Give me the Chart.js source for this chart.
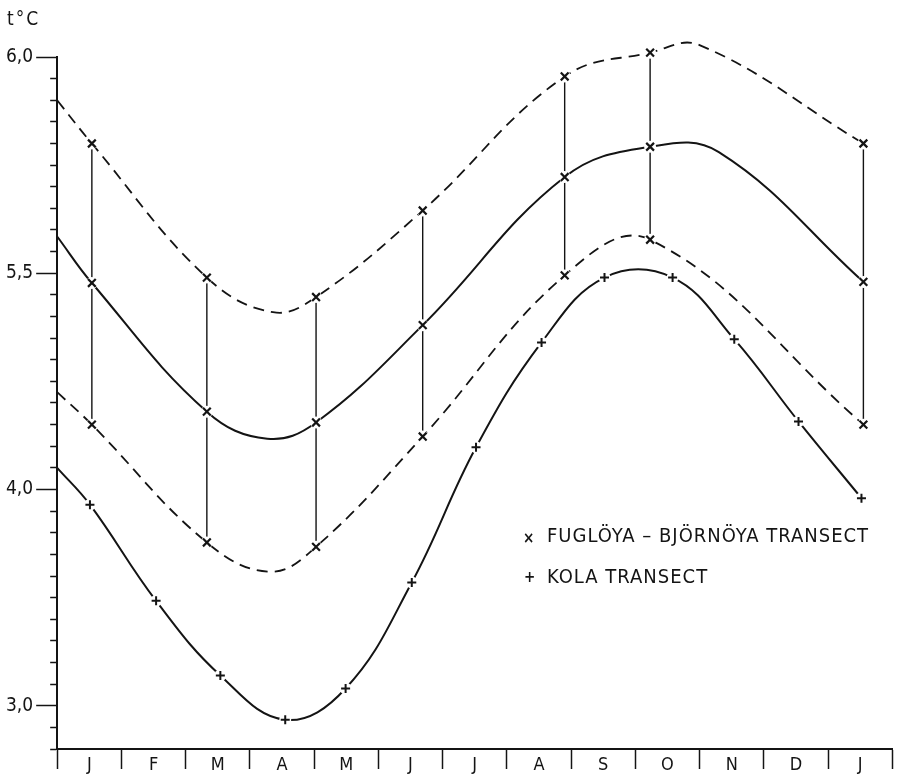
<!DOCTYPE html>
<html>
<head>
<meta charset="utf-8">
<script src="https://cdn.jsdelivr.net/npm/chart.js@4"></script>
<style>
  html, body { margin: 0; padding: 0; background: #fff; }
  #wrap { width: 900px; height: 777px; }
</style>
</head>
<body>
<div id="wrap"><canvas id="tempChart"></canvas></div>
<script>
// Months along the x axis (January to January)
const months = ['J', 'F', 'M', 'A', 'M', 'J', 'J', 'A', 'S', 'O', 'N', 'D', 'J'];

// Labelled y ticks, printed as on the original figure
const yTickValues = [3, 4, 5, 6];
const yTickLabels = ['3,0', '4,0', '5,5', '6,0'];

// Fuglöya - Björnöya transect: observation times (months from 1 Jan) and t°C
const fugX    = [0.54, 2.33, 4.03, 5.69, 7.90, 9.23, 12.55];
const fugMax  = [5.60, 4.98, 4.89, 5.29, 5.91, 6.02, 5.60];
const fugMean = [4.955, 4.36, 4.31, 4.76, 5.445, 5.585, 4.96];
const fugMin  = [4.30, 3.755, 3.735, 4.245, 4.99, 5.155, 4.30];

// where the drawn curves start at the axis or turn between observations
const fugMaxBends  = [[0, 5.80], [3.36, 4.82], [10.0, 6.055]];
const fugMeanBends = [[0, 5.17], [3.27, 4.235], [10.3, 5.56]];
const fugMinBends  = [[0, 4.45], [3.31, 3.62]];

// Kola transect
const kolaX = [0.51, 1.54, 2.54, 3.55, 4.49, 5.52, 6.52, 7.54, 8.52, 9.58, 10.54, 11.54, 12.52];
const kolaT = [3.93, 3.485, 3.14, 2.935, 3.08, 3.57, 4.195, 4.68, 4.98, 4.98, 4.695, 4.315, 3.96];
const kolaBends = [[0, 4.10]];

const INK = '#141414';
const FONT = "'DejaVu Sans Condensed', 'Liberation Sans Narrow', 'DejaVu Sans', sans-serif";

const pts = (xs, ys) => xs.map((x, i) => ({ x, y: ys[i] }));
const curve = (xs, ys, bends) =>
  pts(xs, ys).concat(bends.map(b => ({ x: b[0], y: b[1] }))).sort((a, b) => a.x - b.x);

function lineSet(data, dash, width) {
  return {
    data, xAxisID: 'xv', yAxisID: 'y',
    borderColor: INK, borderWidth: width, borderDash: dash,
    pointRadius: 0, tension: 0.4, fill: false, clip: false, order: 3
  };
}

const datasets = [
  lineSet(curve(fugX, fugMax, fugMaxBends), [11, 7], 1.8),
  lineSet(curve(fugX, fugMean, fugMeanBends), [], 2),
  lineSet(curve(fugX, fugMin, fugMinBends), [11, 7], 1.8),
  lineSet(curve(kolaX, kolaT, kolaBends), [], 2)
];

// vertical bars joining the three Fuglöya values of each survey
fugX.forEach((x, i) => {
  const d = lineSet([{ x, y: fugMax[i] }, { x, y: fugMin[i] }], [], 1.4);
  d.tension = 0;
  datasets.push(d);
});

// white gap round every marker, then the markers themselves
const allFug = pts(fugX, fugMax).concat(pts(fugX, fugMean), pts(fugX, fugMin));
datasets.push({
  data: allFug.concat(pts(kolaX, kolaT)), xAxisID: 'xv', yAxisID: 'y',
  showLine: false, pointStyle: 'circle', pointRadius: 6,
  pointBackgroundColor: '#fff', pointBorderWidth: 0, clip: false, order: 2
});
datasets.push({
  data: allFug, xAxisID: 'xv', yAxisID: 'y',
  showLine: false, pointStyle: 'crossRot', pointRadius: 5.5,
  pointBorderColor: INK, pointBorderWidth: 2.2, clip: false, order: 1
});
datasets.push({
  data: pts(kolaX, kolaT), xAxisID: 'xv', yAxisID: 'y',
  showLine: false, pointStyle: 'cross', pointRadius: 4.5,
  pointBorderColor: INK, pointBorderWidth: 2, clip: false, order: 1
});

const isMajor = v => yTickValues.some(t => Math.abs(t - v) < 1e-6);

const figureText = {
  id: 'figureText',
  afterDraw(chart) {
    const c = chart.ctx;
    c.save();
    c.fillStyle = INK;
    c.textBaseline = 'middle';
    c.font = `19px ${FONT}`;
    c.letterSpacing = '2px';
    c.fillText('t°C', 7, 20);
    c.font = `20px ${FONT}`;
    c.letterSpacing = '1px';
    c.fillText('FUGLÖYA – BJÖRNÖYA TRANSECT', 547, 537);
    c.fillText('KOLA TRANSECT', 547, 578);
    c.letterSpacing = '0px';
    c.font = `bold 15px ${FONT}`;
    c.fillText('×', 523, 539);
    c.fillText('+', 524, 578);
    c.restore();
  }
};

new Chart(document.getElementById('tempChart'), {
  type: 'line',
  data: { labels: months, datasets },
  options: {
    responsive: true,
    maintainAspectRatio: false,
    animation: false,
    layout: { padding: { top: 57, left: 3, right: 7, bottom: 0 } },
    plugins: { legend: { display: false }, tooltip: { enabled: false } },
    scales: {
      x: {
        type: 'category', labels: months, offset: true,
        grid: { offset: true, drawOnChartArea: false, tickLength: 20, tickColor: INK, tickWidth: 1.5 },
        border: { color: INK, width: 2 },
        ticks: { color: INK, padding: -14, font: { family: FONT, size: 18 } },
        afterFit: s => { s.height = 28; }
      },
      xv: { type: 'linear', min: 0, max: 13, display: false },
      y: {
        type: 'linear', min: 2.8, max: 6.0,
        grid: {
          drawOnChartArea: false, tickLength: 21, tickColor: INK, tickWidth: 1.5,
          tickBorderDash: ctx => isMajor(ctx.tick.value) ? [] : [0, 14, 7, 100]
        },
        border: { color: INK, width: 2 },
        ticks: {
          stepSize: 0.1, autoSkip: false, padding: 3, color: INK,
          font: { family: FONT, size: 19 },
          callback: v => {
            const i = yTickValues.findIndex(t => Math.abs(t - v) < 1e-6);
            return i >= 0 ? yTickLabels[i] : '';
          }
        }
      }
    }
  },
  plugins: [figureText]
});
</script>
</body>
</html>
